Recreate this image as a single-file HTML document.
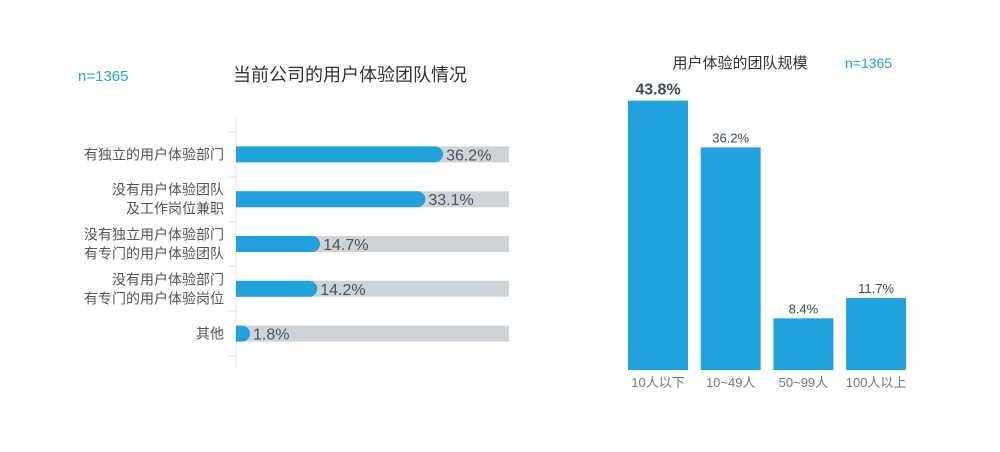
<!DOCTYPE html>
<html><head><meta charset="utf-8"><style>
body{margin:0;background:#fff;font-family:"Liberation Sans","Noto Sans CJK SC",sans-serif}
svg text{font-family:"Liberation Sans","Noto Sans CJK SC",sans-serif}
</style></head><body>
<svg id="c" width="1000" height="447" xmlns="http://www.w3.org/2000/svg">
<text x="78" y="81" font-size="15" fill="#2a9fd8">n=1365</text>
<text x="350" y="81" font-size="18" fill="#333" text-anchor="middle">当前公司的用户体验团队情况</text>
<text x="740" y="68" font-size="15" fill="#333" text-anchor="middle">用户体验的团队规模</text>
<text x="845" y="68" font-size="14" fill="#2a9fd8">n=1365</text>
<g id="left"></g><g id="right"></g>
</svg>
<script>
const hCats=[["有独立的用户体验部门"],["没有用户体验团队","及工作岗位兼职"],["没有独立用户体验部门","有专门的用户体验团队"],["没有用户体验部门","有专门的用户体验岗位"],["其他"]];
const hVals=[36.2,33.1,14.7,14.2,1.8];
const hLabels=["36.2%","33.1%","14.7%","14.2%","1.8%"];
const vCats=["10人以下","10~49人","50~99人","100人以上"];
const vVals=[43.8,36.2,8.4,11.7];
const vLabels=["43.8%","36.2%","8.4%","11.7%"];
const NS="http://www.w3.org/2000/svg";
function mk(p,t,a){const e=document.createElementNS(NS,t);for(const k in a)e.setAttribute(k,a[k]);p.appendChild(e);return e;}
const L=document.getElementById('left');
const x0=236,xMax=509,rowH=44.8,y0=132;
const xs=v=>v*5.72;
const ax=mk(L,'line',{x1:x0,y1:117,x2:x0,y2:368,stroke:'#e3e3e3','stroke-width':1});


for(let i=0;i<=hCats.length;i++){
 const t=mk(L,'line',{x1:x0-9,x2:x0,y1:y0+i*rowH,y2:y0+i*rowH,stroke:'#e3e3e3'});
 
 
}
hVals.forEach((v,i)=>{
 const cy=y0+rowH*(i+0.5);
 const bg=mk(L,'rect',{x:x0,y:cy-8,width:xMax-x0,height:16,fill:'#cdd3d7'});
 
 
 const w=Math.max(xs(v),14);
 const b=mk(L,'path',{d:`M${x0},${cy-8}H${x0+w-8}A8,8 0 0 1 ${x0+w-8},${cy+8}H${x0}Z`,fill:'#21a2dc'});
 
 
 const lt=mk(L,'text',{x:x0+w+3,y:cy+6,'font-size':16,fill:'#4a5561'});lt.textContent=hLabels[i];
 
 
 const lines=hCats[i];
 lines.forEach((s,j)=>{
  const ty=cy+5+(j-(lines.length-1)/2)*19;
  const c=mk(L,'text',{x:224,y:ty,'font-size':14,fill:'#555','text-anchor':'end'});c.textContent=s;
  
  
 });
});
const R=document.getElementById('right');
const base=370,bx0=628,step=72.7,bw=60;
const ys=v=>v*6.15;
vVals.forEach((v,i)=>{
 const x=bx0+i*step,h=ys(v);
 const r=mk(R,'rect',{x:x,y:base-h,width:bw,height:h,fill:'#21a2dc'});
 
 
 const big=i===0;
 const t=mk(R,'text',{x:x+bw/2,y:base-h-(big?6:5),'font-size':big?16:13,'font-weight':big?'bold':'normal',fill:'#3d4b58','text-anchor':'middle'});t.textContent=vLabels[i];
 
 
 const c=mk(R,'text',{x:x+bw/2,y:base+17,'font-size':13,fill:'#777','text-anchor':'middle'});c.textContent=vCats[i];
 
 
});
</script>
</body></html>
